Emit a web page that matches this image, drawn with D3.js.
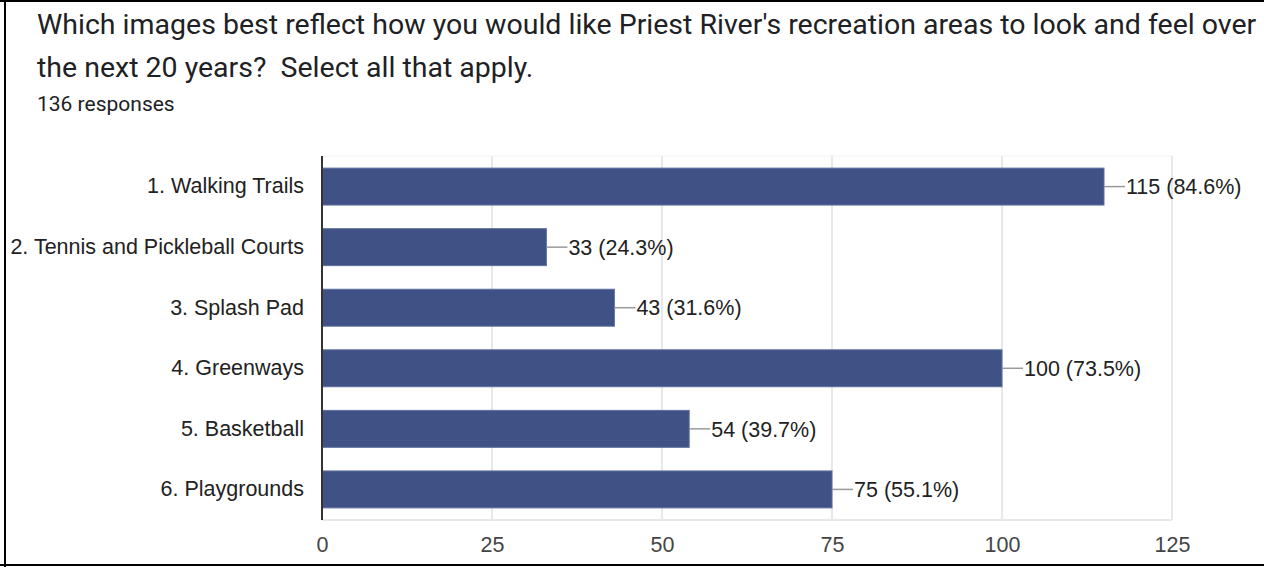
<!DOCTYPE html>
<html>
<head>
<meta charset="utf-8">
<script src="https://cdn.jsdelivr.net/npm/d3@7"></script>
<style>
  html, body { margin: 0; padding: 0; background: #fff; }
  svg { display: block; }
  .title { white-space: pre; }
</style>
</head>
<body>
<svg id="chart" width="1264" height="567"></svg>
<script>
// Survey question and response counts
const titleLines = [
  "Which images best reflect how you would like Priest River's recreation areas to look and feel over",
  "the next 20 years?  Select all that apply."
];
const responsesText = "136 responses";

const categories = [
  "1. Walking Trails",
  "2. Tennis and Pickleball Courts",
  "3. Splash Pad",
  "4. Greenways",
  "5. Basketball",
  "6. Playgrounds"
];
const counts = [115, 33, 43, 100, 54, 75];
const percents = ["84.6%", "24.3%", "31.6%", "73.5%", "39.7%", "55.1%"];
const tickValues = [0, 25, 50, 75, 100, 125];

const W = 1264, H = 567;
const svg = d3.select("#chart");
const labelFont = "'Liberation Sans', Arial, sans-serif";

// Frame around the card (left, top and bottom edges)
svg.append("line").attr("x1", 5).attr("x2", 5).attr("y1", 0).attr("y2", H)
  .attr("stroke", "#000").attr("stroke-width", 2);
svg.append("line").attr("x1", 0).attr("x2", W).attr("y1", 1).attr("y2", 1)
  .attr("stroke", "#000").attr("stroke-width", 2);
svg.append("line").attr("x1", 0).attr("x2", W).attr("y1", 565).attr("y2", 565)
  .attr("stroke", "#000").attr("stroke-width", 2);

// Heading
svg.selectAll("text.title").data(titleLines).join("text")
  .attr("class", "title")
  .attr("x", 37)
  .attr("y", (d, i) => 34 + i * 43)
  .attr("font-family", "Roboto, sans-serif")
  .attr("font-size", 28.5)
  .attr("fill", "#202124")
  .text(d => d);

svg.append("text")
  .attr("x", 37).attr("y", 111)
  .attr("font-family", "Roboto, sans-serif")
  .attr("font-size", 21)
  .attr("fill", "#202124")
  .text(responsesText);

// Plot area
const plot = { left: 322, right: 1172, top: 156, bottom: 520 };

const x = d3.scaleLinear().domain([0, 125]).range([plot.left, plot.right]);
const y = d3.scaleBand().domain(categories).range([plot.top, plot.bottom]).paddingInner(0.39).paddingOuter(0.2);

const g = svg.append("g");

// Vertical grid lines
g.selectAll("line.grid").data(tickValues.filter(v => v > 0)).join("line")
  .attr("class", "grid")
  .attr("x1", d => x(d)).attr("x2", d => x(d))
  .attr("y1", plot.top).attr("y2", plot.bottom)
  .attr("stroke", "#e8e8e8").attr("stroke-width", 2);

// Top and bottom border of the plot area
g.append("line").attr("x1", plot.left).attr("x2", plot.right)
  .attr("y1", plot.bottom).attr("y2", plot.bottom)
  .attr("stroke", "#e8e8e8").attr("stroke-width", 2);
g.append("line").attr("x1", plot.left).attr("x2", plot.right)
  .attr("y1", plot.top).attr("y2", plot.top)
  .attr("stroke", "#f2f2f2").attr("stroke-width", 1);

// Bars
const rows = categories.map((c, i) => ({ cat: c, n: counts[i], pct: percents[i] }));

g.selectAll("rect.bar").data(rows).join("rect")
  .attr("class", "bar")
  .attr("x", x(0))
  .attr("y", d => y(d.cat))
  .attr("width", d => x(d.n) - x(0))
  .attr("height", y.bandwidth())
  .attr("fill", "#3f5185")
  .attr("stroke", "#5f6f9f")
  .attr("stroke-width", 1);

// Leader lines and value labels
g.selectAll("line.leader").data(rows).join("line")
  .attr("class", "leader")
  .attr("x1", d => x(d.n)).attr("x2", d => x(d.n) + 21)
  .attr("y1", d => y(d.cat) + y.bandwidth() / 2)
  .attr("y2", d => y(d.cat) + y.bandwidth() / 2)
  .attr("stroke", "#999").attr("stroke-width", 1.5);

g.selectAll("text.value").data(rows).join("text")
  .attr("class", "value")
  .attr("x", d => x(d.n) + 22)
  .attr("y", d => y(d.cat) + y.bandwidth() / 2)
  .attr("dy", "0.36em")
  .attr("font-family", labelFont)
  .attr("font-size", 21.5)
  .attr("fill", "#222")
  .text(d => `${d.n} (${d.pct})`);

// Category axis
const yAxis = d3.axisLeft(y).tickSize(0).tickPadding(18);
const yg = g.append("g").attr("transform", `translate(${plot.left},0)`).call(yAxis);
yg.select(".domain").remove();
yg.selectAll("text")
  .attr("font-family", labelFont)
  .attr("font-size", 21.5)
  .attr("fill", "#222");

// Zero baseline
g.append("line").attr("x1", x(0)).attr("x2", x(0))
  .attr("y1", plot.top).attr("y2", plot.bottom)
  .attr("stroke", "#333").attr("stroke-width", 2);

// Value axis
const xAxis = d3.axisBottom(x).tickValues(tickValues).tickSize(0).tickPadding(17);
const xg = g.append("g").attr("transform", `translate(0,${plot.bottom})`).call(xAxis);
xg.select(".domain").remove();
xg.selectAll("text")
  .attr("font-family", labelFont)
  .attr("font-size", 21.5)
  .attr("fill", "#444");
</script>
</body>
</html>
